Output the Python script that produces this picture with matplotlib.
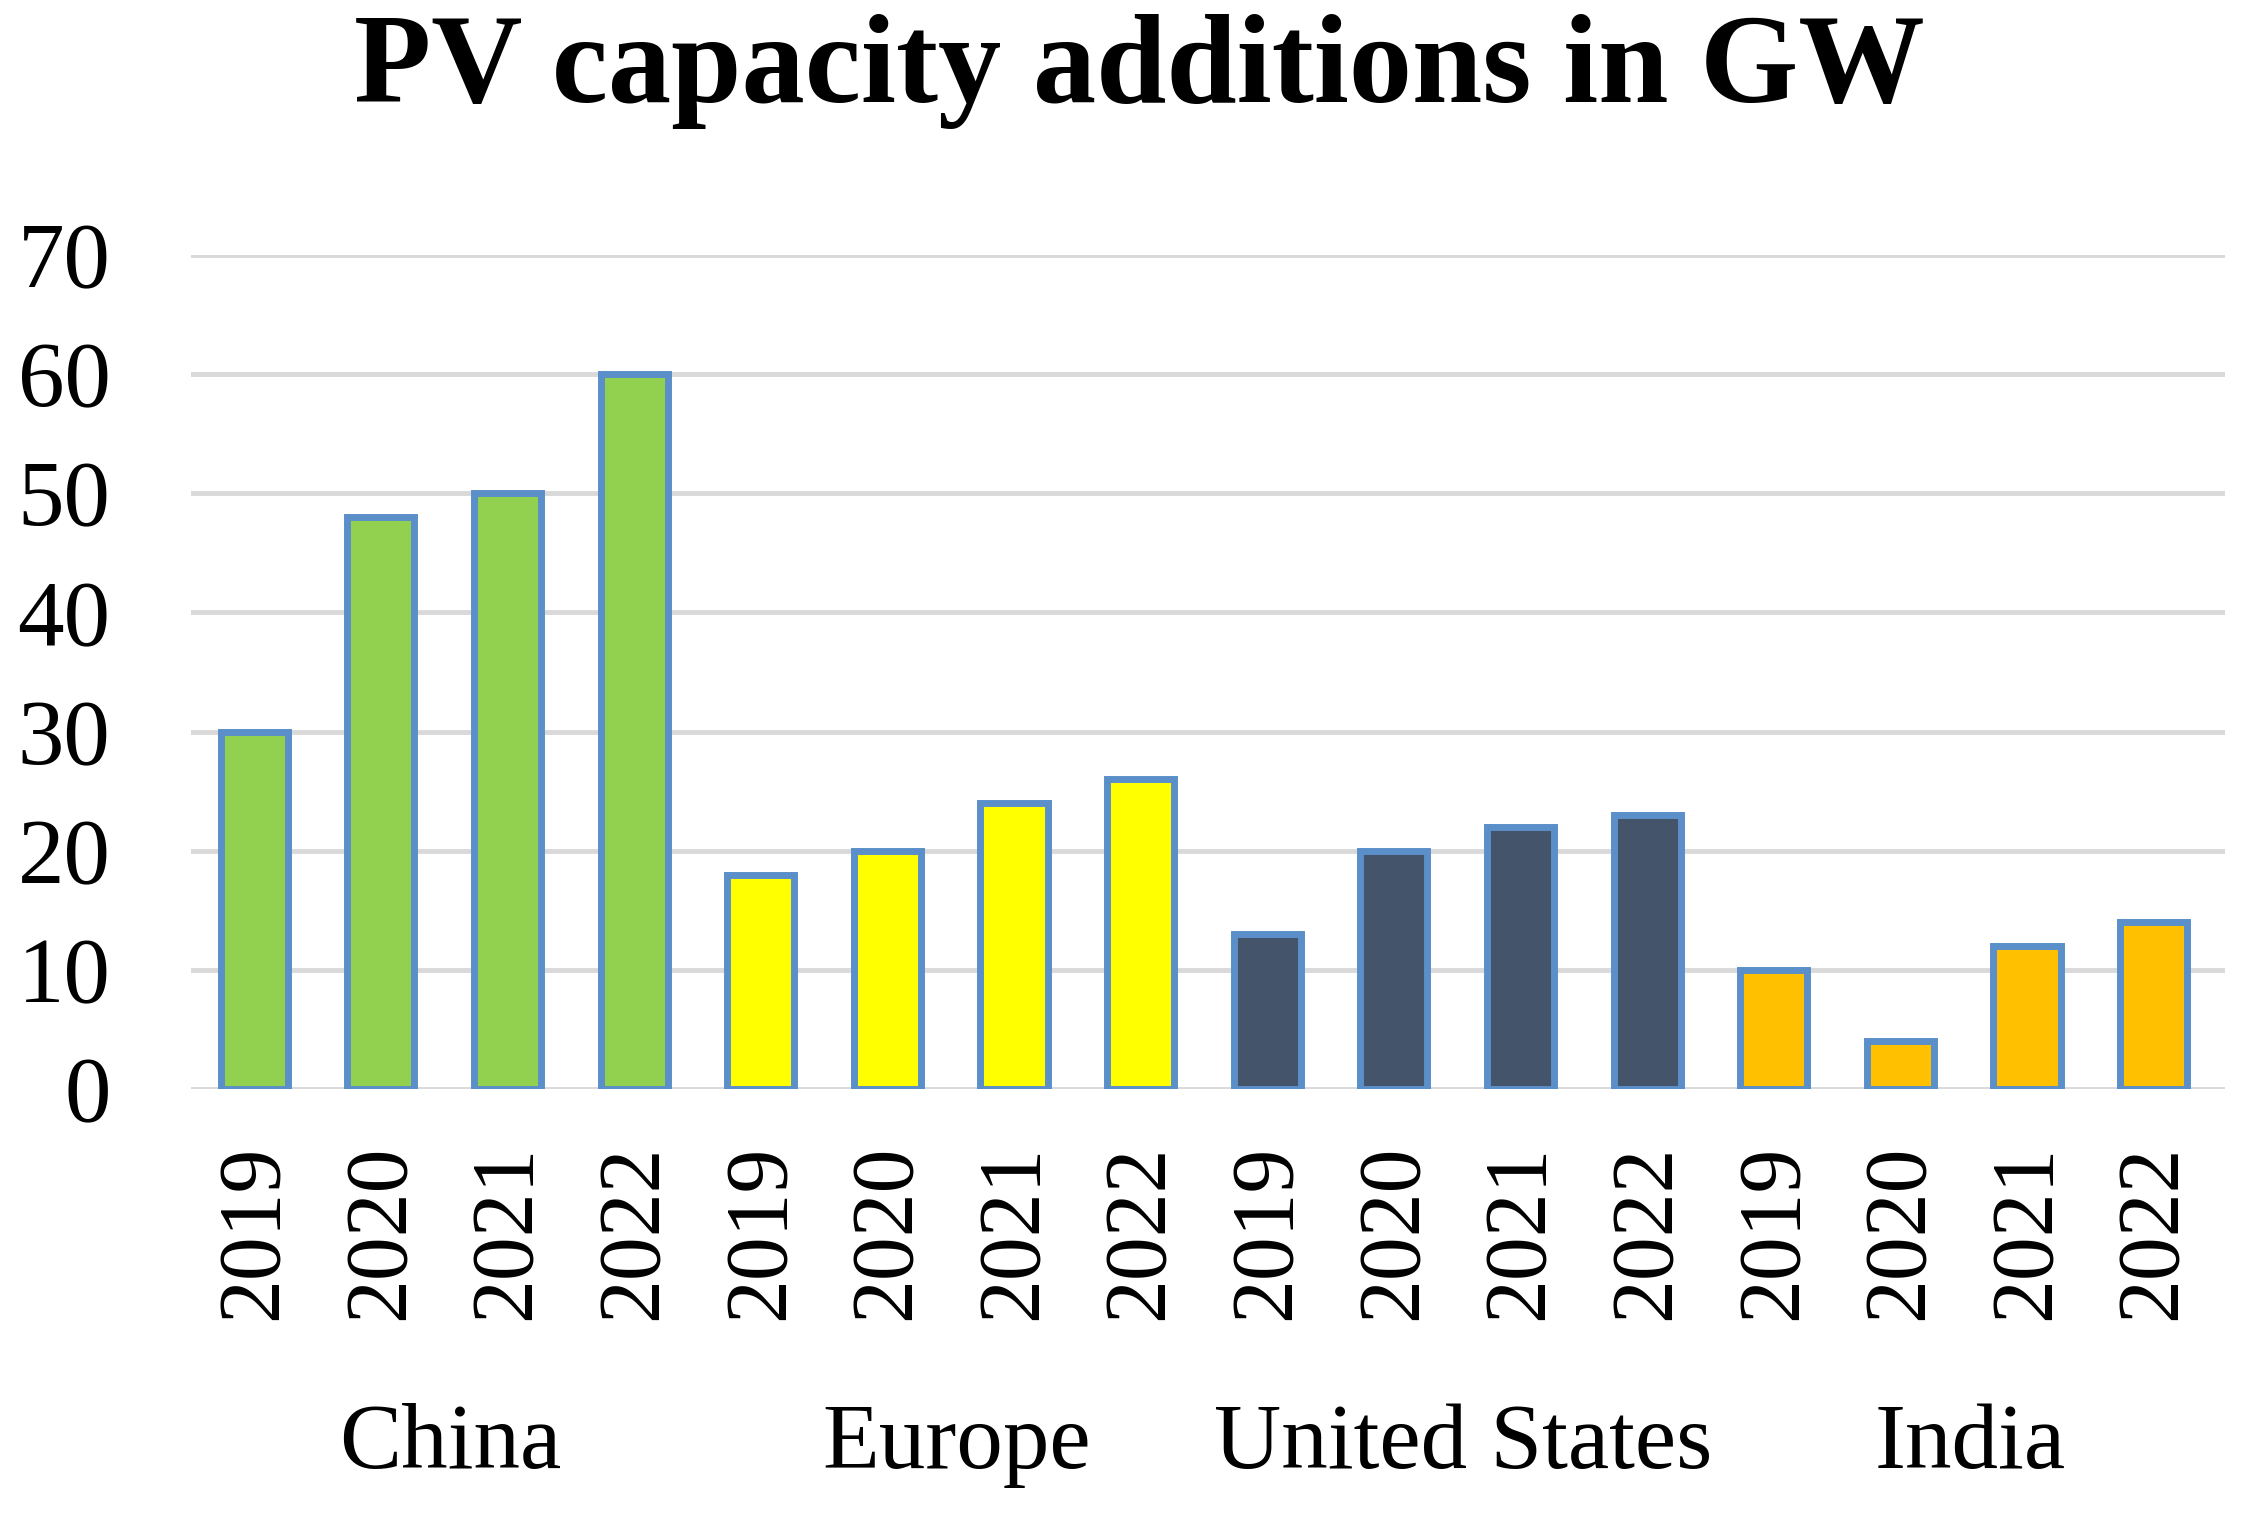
import numpy as np
import matplotlib.pyplot as plt
import matplotlib.transforms as mtransforms

# data
regions = ['China', 'Europe', 'United States', 'India']
years = ['2019', '2020', '2021', '2022']
china = [30, 48, 50, 60]
europe = [18, 20, 24, 26]
usa = [13, 20, 22, 23]
india = [10, 4, 12, 14]
colors = ['#92D050', '#FFFF00', '#44546A', '#FFC000']

plt.rcParams['font.family'] = ['Liberation Serif', 'DejaVu Serif']

fig = plt.figure(figsize=(22.47, 15.18), dpi=100)
ax = fig.add_axes([0.085, 0.2826, 0.905, 0.5494])

#one group of four bars per region
series = [china, europe, usa, india]
xpos = np.arange(16)
for g, vals in enumerate(series):
    x = xpos[g * 4:(g + 1) * 4]
    ax.bar(x, vals, width=0.53, color=colors[g], edgecolor='#5B8FC9',
           linewidth=5, zorder=3)

ax.set_ylim(0, 70)
ax.set_xlim(-0.5, 15.56)
ax.set_yticks(np.arange(0, 71, 10))
ax.yaxis.grid(True, color='#D9D9D9', linewidth=3.5, zorder=0)
ax.set_axisbelow(True)
for s in ax.spines.values():
    s.set_visible(False)
ax.tick_params(axis='y', length=0, pad=58, labelsize=67)
ax.tick_params(axis='x', length=0, pad=40, labelsize=63)
ax.set_xticks(xpos)
ax.set_xticklabels(years * 4, rotation=90, va='top')

#region names under the year labels
trans = mtransforms.blended_transform_factory(ax.transData, fig.transFigure)
for g, name in enumerate(regions):
    ax.text(g * 4 + 1.55, 0.048, name, transform=trans, ha='center',
            va='center', fontsize=67)

fig.text(0.507, 0.953, 'PV capacity additions in GW', ha='center', va='center',
         fontsize=91, fontweight='bold')

plt.savefig('out.png')
plt.close()
